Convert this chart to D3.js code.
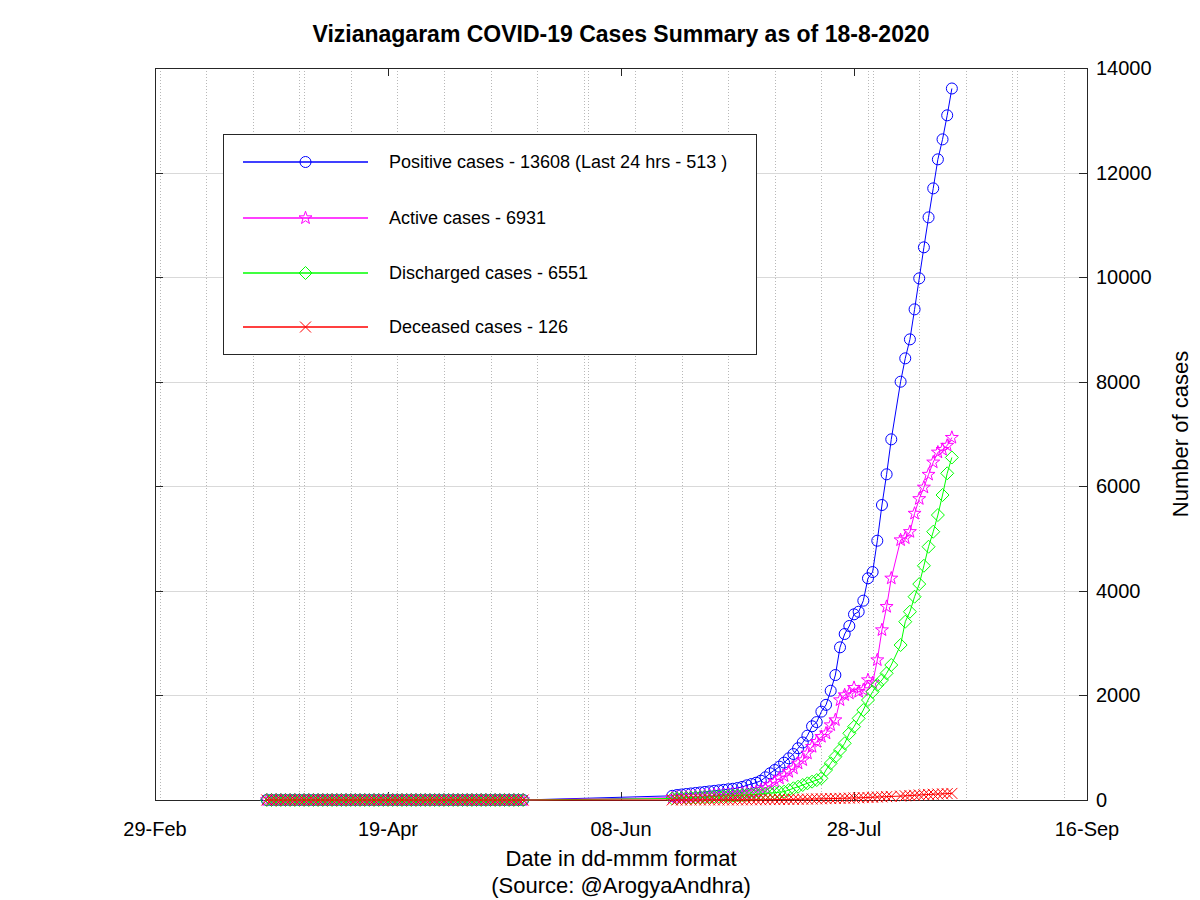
<!DOCTYPE html>
<html><head><meta charset="utf-8">
<script src="https://cdn.jsdelivr.net/npm/d3@7"></script>
<style>
body{margin:0;background:#fff}
svg{display:block}
text{font-family:"Liberation Sans", Arial, Helvetica, sans-serif;fill:#000}
</style>
</head><body>
<svg id="chart" width="1200" height="900"></svg>
<script>
// ---------------- DATA ----------------
const chartTitle = "Vizianagaram COVID-19 Cases Summary as of 18-8-2020";
const xLabel = "Date in dd-mmm format";
const sourceLabel = "(Source: @ArogyaAndhra)";
const yLabel = "Number of cases";

// Period with no cases (all four series at zero)
const earlyDates = [
 "2020-03-24","2020-03-25","2020-03-26","2020-03-27","2020-03-28","2020-03-29","2020-03-30","2020-03-31",
 "2020-04-01","2020-04-02","2020-04-03","2020-04-04","2020-04-05","2020-04-06","2020-04-07","2020-04-08","2020-04-09","2020-04-10",
 "2020-04-11","2020-04-12","2020-04-13","2020-04-14","2020-04-15","2020-04-16","2020-04-17","2020-04-18","2020-04-19","2020-04-20",
 "2020-04-21","2020-04-22","2020-04-23","2020-04-24","2020-04-25","2020-04-26","2020-04-27","2020-04-28","2020-04-29","2020-04-30",
 "2020-05-01","2020-05-02","2020-05-03","2020-05-04","2020-05-05","2020-05-06","2020-05-07","2020-05-08","2020-05-09","2020-05-10",
 "2020-05-11","2020-05-12","2020-05-13","2020-05-14","2020-05-15","2020-05-16","2020-05-17","2020-05-18"];
const earlyCases = [
 0,0,0,0,0,0,0,0,
 0,0,0,0,0,0,0,0,0,0,
 0,0,0,0,0,0,0,0,0,0,
 0,0,0,0,0,0,0,0,0,0,
 0,0,0,0,0,0,0,0,0,0,
 0,0,0,0,0,0,0,0];

const mainDates = [
 "2020-06-19","2020-06-20","2020-06-21","2020-06-22","2020-06-23","2020-06-24","2020-06-25","2020-06-26","2020-06-27","2020-06-28","2020-06-29","2020-06-30",
 "2020-07-01","2020-07-02","2020-07-03","2020-07-04","2020-07-05","2020-07-06","2020-07-07","2020-07-08","2020-07-09","2020-07-10","2020-07-11","2020-07-12",
 "2020-07-13","2020-07-14","2020-07-15","2020-07-16","2020-07-17","2020-07-18","2020-07-19","2020-07-20","2020-07-21","2020-07-22",
 "2020-07-23","2020-07-24","2020-07-25","2020-07-26","2020-07-27","2020-07-28","2020-07-29","2020-07-30","2020-07-31",
 "2020-08-01","2020-08-02","2020-08-03","2020-08-04","2020-08-05",
 "2020-08-07","2020-08-08","2020-08-09","2020-08-10","2020-08-11","2020-08-12","2020-08-13","2020-08-14","2020-08-15","2020-08-16","2020-08-17","2020-08-18"];

const positive = [
 80,95,105,115,125,135,145,155,165,175,185,195,
 205,215,230,250,281,306,331,369,434,511,574,637,
 715,797,880,990,1100,1230,1410,1490,1690,1820,
 2090,2390,2920,3175,3328,3551,3601,3812,4240,
 4360,4959,5642,6229,6898,
 8000,8447,8810,9384,9977,10570,11143,11698,12253,12635,13095,13608];
const active = [
 45,50,55,60,65,70,75,80,85,90,95,100,
 105,112,120,127,133,140,159,191,224,287,350,415,
 460,541,606,702,765,893,1019,1115,1211,1276,
 1434,1530,1912,2008,2040,2148,2071,2104,2295,
 2240,2677,3251,3697,4240,
 4972,5010,5130,5480,5760,5980,6225,6460,6650,6700,6780,6931];
const discharged = [
 30,34,38,42,46,50,54,58,62,66,70,74,
 78,83,88,93,98,104,110,117,124,132,140,150,
 159,191,224,254,287,319,350,382,415,574,
 702,828,956,1084,1276,1402,1562,1721,1912,
 2071,2199,2295,2423,2582,
 2964,3410,3601,3888,4130,4480,4844,5131,5450,5833,6248,6551];
const deceased = [
 1,1,1,1,1,2,2,2,2,2,2,2,
 2,2,3,3,3,4,4,5,6,7,8,9,
 10,11,12,14,16,17,19,21,23,25,
 27,29,31,34,36,39,42,45,48,
 52,56,60,64,68,
 75,80,85,90,96,101,106,110,114,118,122,126];

const seriesNames = ["Positive cases - 13608 (Last 24 hrs - 513 )","Active cases - 6931","Discharged cases - 6551","Deceased cases - 126"];
const seriesColors = ["#0000ff","#ff00ff","#00ff00","#ff0000"];
const seriesMarkers = ["circle","star","diamond","cross"];

const xDomain = ["2020-02-29","2020-09-16"];
const xTickDates = ["2020-02-29","2020-04-19","2020-06-08","2020-07-28","2020-09-16"];
const yTicks = [0,2000,4000,6000,8000,10000,12000,14000];

// ---------------- LAYOUT ----------------
const L = 155, R = 1087, T = 68, B = 800;
const axisColor = "#262626";
const gridColor = "#d9d9d9";
const parse = d3.utcParse("%Y-%m-%d");
const fmt = d3.utcFormat("%d-%b");

const x = d3.scaleUtc().domain(xDomain.map(parse)).range([L, R]);
const y = d3.scaleLinear().domain([0, 14000]).range([B, T]);

const svg = d3.select("#chart");
svg.append("rect").attr("width",1200).attr("height",900).attr("fill","#fff");

// grid: vertical dotted every 10 days, horizontal solid at y ticks
const gridDays = d3.utcDay.every(10).range(parse(xDomain[0]), d3.utcDay.offset(parse(xDomain[1]),1));
const g = svg.append("g");
g.selectAll("line.vg").data(gridDays).join("line")
  .attr("x1", d => Math.round(x(d))+0.5).attr("x2", d => Math.round(x(d))+0.5)
  .attr("y1", T).attr("y2", B)
  .attr("stroke", "#b8b8b8").attr("stroke-width", 1).attr("stroke-dasharray", "1,2");
g.selectAll("line.hg").data(yTicks).join("line")
  .attr("x1", L).attr("x2", R)
  .attr("y1", d => Math.round(y(d))+0.5).attr("y2", d => Math.round(y(d))+0.5)
  .attr("stroke", gridColor).attr("stroke-width", 1);

// axes box
svg.append("rect").attr("x", L+0.5).attr("y", T+0.5).attr("width", R-L).attr("height", B-T)
  .attr("fill","none").attr("stroke", axisColor).attr("stroke-width", 1);

// ticks (inward, mirrored)
const tk = 8;
const xt = xTickDates.map(parse);
svg.append("g").selectAll("line").data(xt).join("line")
  .attr("x1", d => Math.round(x(d))+0.5).attr("x2", d => Math.round(x(d))+0.5)
  .attr("y1", B).attr("y2", B-tk).attr("stroke", axisColor);
svg.append("g").selectAll("line").data(xt).join("line")
  .attr("x1", d => Math.round(x(d))+0.5).attr("x2", d => Math.round(x(d))+0.5)
  .attr("y1", T).attr("y2", T+tk).attr("stroke", axisColor);
svg.append("g").selectAll("line").data(yTicks).join("line")
  .attr("x1", R).attr("x2", R-tk)
  .attr("y1", d => Math.round(y(d))+0.5).attr("y2", d => Math.round(y(d))+0.5).attr("stroke", axisColor);
svg.append("g").selectAll("line").data(yTicks).join("line")
  .attr("x1", L).attr("x2", L+tk)
  .attr("y1", d => Math.round(y(d))+0.5).attr("y2", d => Math.round(y(d))+0.5).attr("stroke", axisColor);

// tick labels
svg.append("g").selectAll("text").data(xt).join("text")
  .attr("x", d => x(d)).attr("y", 836).attr("text-anchor","middle")
  .attr("font-size", 20).text(d => fmt(d));
svg.append("g").selectAll("text").data(yTicks).join("text")
  .attr("x", R+9).attr("y", d => y(d)+7).attr("text-anchor","start")
  .attr("font-size", 20).text(d => d);

// labels
svg.append("text").attr("x", 621).attr("y", 42).attr("text-anchor","middle")
  .attr("font-size", 23).attr("font-weight","bold").text(chartTitle);
svg.append("text").attr("x", 621).attr("y", 866).attr("text-anchor","middle")
  .attr("font-size", 22).text(xLabel);
svg.append("text").attr("x", 621).attr("y", 893).attr("text-anchor","middle")
  .attr("font-size", 22).text(sourceLabel);
svg.append("text").attr("transform","translate(1188,434) rotate(-90)").attr("text-anchor","middle")
  .attr("font-size", 22).text(yLabel);

// markers
function markerPath(type) {
  if (type === "circle") { const r = 5.5; return `M${r},0A${r},${r} 0 1,1 ${-r},0A${r},${r} 0 1,1 ${r},0Z`; }
  if (type === "diamond") { const r = 6.5; return `M0,${-r}L${r},0L0,${r}L${-r},0Z`; }
  if (type === "cross") { const r = 5.5; return `M${-r},${-r}L${r},${r}M${-r},${r}L${r},${-r}`; }
  // pentagram
  const R1 = 6.8, r1 = 2.7; let p = "";
  for (let i = 0; i < 10; i++) {
    const a = -Math.PI/2 + i*Math.PI/5; const rr = i % 2 ? r1 : R1;
    p += (i ? "L" : "M") + (rr*Math.cos(a)).toFixed(2) + "," + (rr*Math.sin(a)).toFixed(2);
  }
  return p + "Z";
}

const allSeries = [positive, active, discharged, deceased];
const line = d3.line().x(d => x(d.date)).y(d => y(d.value));
allSeries.forEach((vals, si) => {
  const pts = earlyDates.map((d, i) => ({date: parse(d), value: earlyCases[i]}))
    .concat(mainDates.map((d, i) => ({date: parse(d), value: vals[i]})));
  const col = seriesColors[si];
  const gs = svg.append("g");
  gs.append("path").datum(pts).attr("d", line).attr("fill","none").attr("stroke", col).attr("stroke-width", 1);
  gs.selectAll("path.m").data(pts).join("path").attr("class","m")
    .attr("transform", d => `translate(${x(d.date)},${y(d.value)})`)
    .attr("d", markerPath(seriesMarkers[si]))
    .attr("fill","none").attr("stroke", col).attr("stroke-width", 1);
});

// legend
const lg = svg.append("g");
lg.append("rect").attr("x", 223.5).attr("y", 134.5).attr("width", 533).attr("height", 220)
  .attr("fill","#fff").attr("stroke", axisColor);
const rowsY = [162, 218, 273, 327];
seriesNames.forEach((name, i) => {
  const yy = rowsY[i];
  lg.append("line").attr("x1", 243).attr("x2", 368).attr("y1", yy).attr("y2", yy)
    .attr("stroke", seriesColors[i]).attr("stroke-width", 1.3);
  lg.append("path").attr("transform", `translate(305.5,${yy})`).attr("d", markerPath(seriesMarkers[i]))
    .attr("fill","none").attr("stroke", seriesColors[i]);
  lg.append("text").attr("x", 389).attr("y", yy+6).attr("font-size", 18).text(name);
});
</script>
</body></html>
